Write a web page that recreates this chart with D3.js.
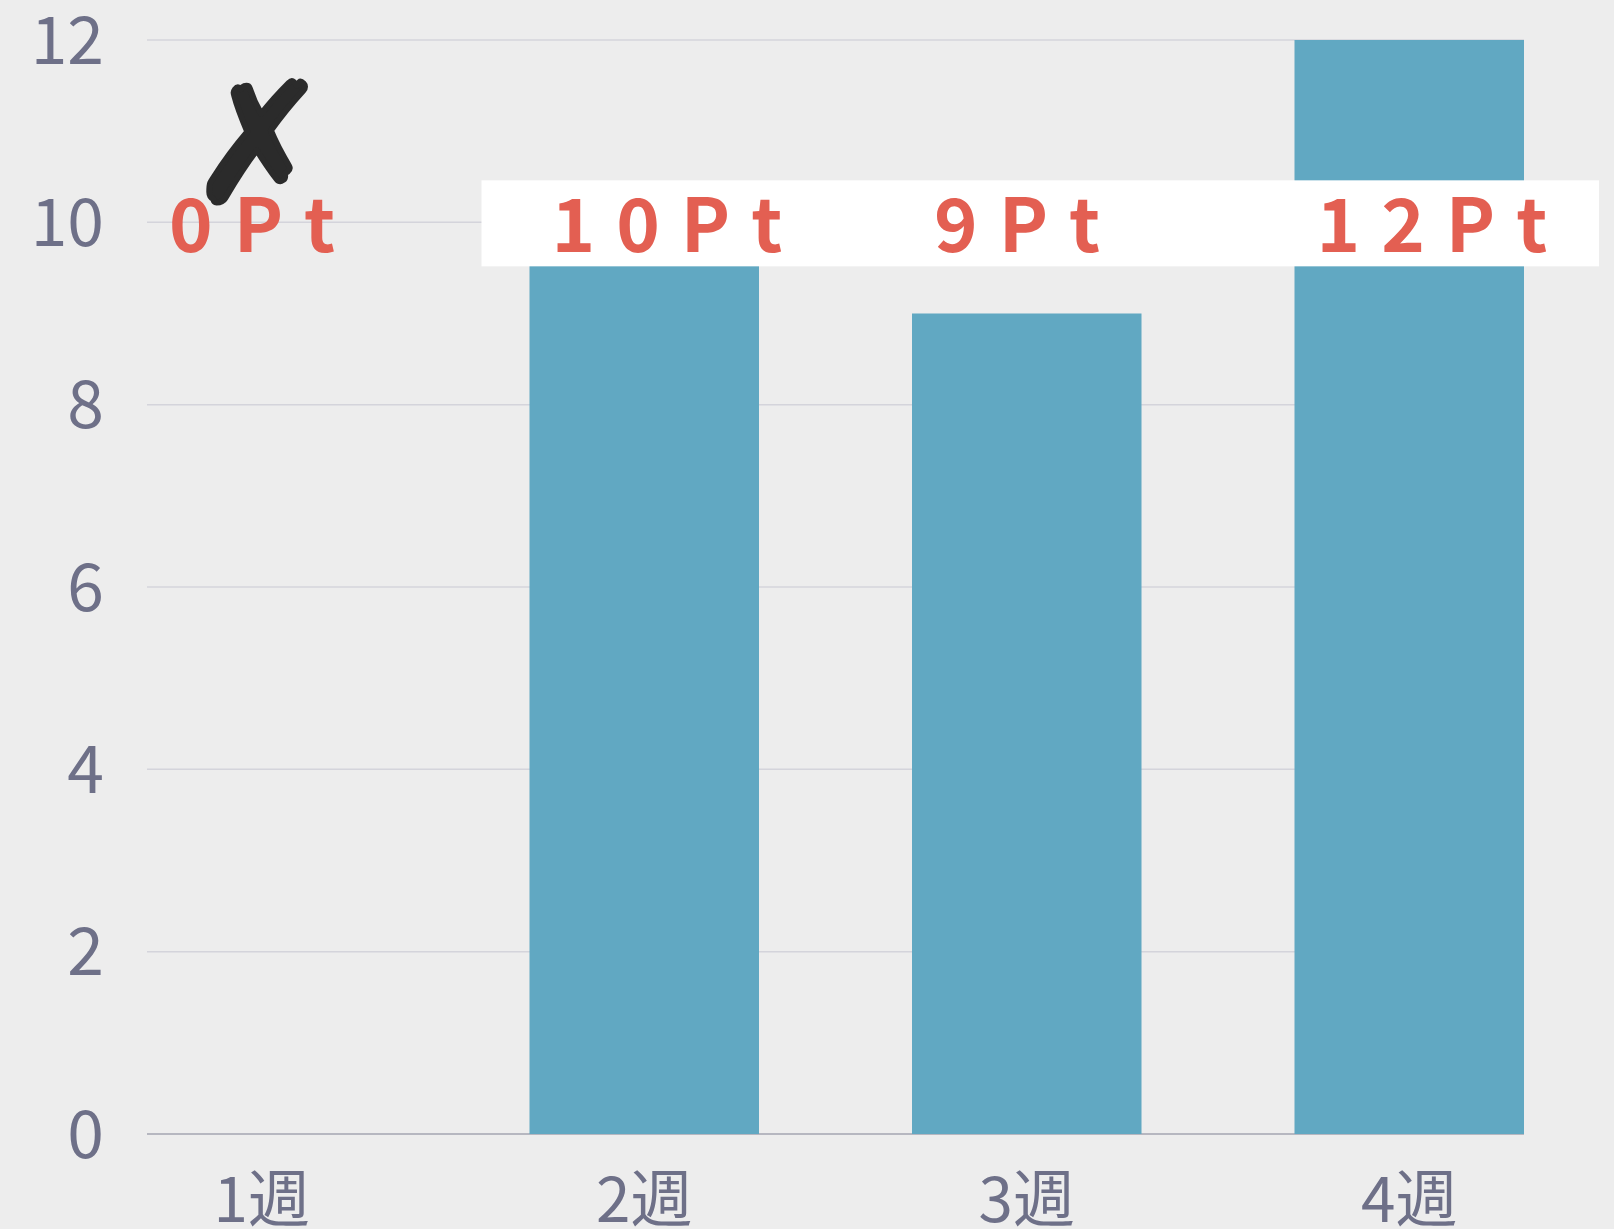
<!DOCTYPE html>
<html>
<head>
<meta charset="utf-8">
<script src="https://cdn.jsdelivr.net/npm/d3@7"></script>
<style>
  body { margin: 0; background: #ededed; }
  svg { display: block; }
  text { font-family: "Noto Sans CJK JP", "Noto Sans", sans-serif; }
</style>
</head>
<body>
<div class="chart"></div>
<script>
/*---------------- data ----------------*/
const weeks = ["1週", "2週", "3週", "4週"];
const points = [0, 10, 9, 12];
const pointLabels = ["0Pt", "10Pt", "9Pt", "12Pt"];
const yTicks = [0, 2, 4, 6, 8, 10, 12];

const size = { width: 1614, height: 1229 };
const plot = { left: 147, right: 1524, top: 40, bottom: 1134 };

const svg = d3.select(".chart").append("svg")
    .attr("width", size.width)
    .attr("height", size.height);

svg.append("rect")
    .attr("width", size.width)
    .attr("height", size.height)
    .attr("fill", "#ededed");

/*---------------- scales ----------------*/
const x = d3.scaleBand()
    .domain(weeks)
    .range([plot.left, plot.right])
    .paddingInner(0.4)
    .paddingOuter(0);

const y = d3.scaleLinear()
    .domain([0, 12])
    .range([plot.bottom, plot.top]);

//grid lines
svg.append("g")
    .selectAll("line")
    .data(yTicks)
    .enter()
    .append("line")
    .attr("x1", plot.left)
    .attr("x2", plot.right)
    .attr("y1", d => y(d))
    .attr("y2", d => y(d))
    .attr("stroke", d => d === 0 ? "#a3a5b0" : "#d4d4db")
    .attr("stroke-width", 1.5);

//y labels
svg.append("g")
    .selectAll("text")
    .data(yTicks)
    .enter()
    .append("text")
    .attr("x", 104)
    .attr("y", d => y(d))
    .attr("dy", "0.36em")
    .attr("text-anchor", "end")
    .style("font-size", "66px")
    .style("fill", "#6e7088")
    .text(d => d);

//x labels
svg.append("g")
    .selectAll("text")
    .data(weeks)
    .enter()
    .append("text")
    .attr("x", d => x(d) + x.bandwidth() / 2)
    .attr("y", 1222)
    .attr("text-anchor", "middle")
    .style("font-size", "62px")
    .style("fill", "#6e7088")
    .text(d => d);

/*---------------- bars ----------------*/
svg.append("g")
    .selectAll("rect")
    .data(weeks)
    .enter()
    .append("rect")
    .attr("x", d => x(d))
    .attr("y", (d, i) => y(points[i]))
    .attr("width", x.bandwidth())
    .attr("height", (d, i) => y(0) - y(points[i]))
    .attr("fill", "#61a8c2");

/*---------------- point labels ----------------*/
//white band behind labels of week 2-4
svg.append("rect")
    .attr("x", x(weeks[1]) - 48)
    .attr("y", y(10) - 42)
    .attr("width", x(weeks[3]) + x.bandwidth() + 75 - (x(weeks[1]) - 48))
    .attr("height", 86)
    .attr("fill", "#ffffff");

svg.append("g")
    .selectAll("text")
    .data(weeks)
    .enter()
    .append("text")
    .attr("x", d => x(d) + 22)
    .attr("y", y(10) + 30)
    .attr("text-anchor", "start")
    .style("font-size", "74px")
    .style("font-weight", "bold")
    .style("letter-spacing", "21px")
    .style("fill", "#e35f52")
    .text((d, i) => pointLabels[i]);

//cross mark on week 1
svg.append("text")
    .attr("x", x(weeks[0]) + x.bandwidth() / 2 - 3)
    .attr("y", y(11) + 70)
    .attr("text-anchor", "middle")
    .style("font-family", "DejaVu Sans")
    .style("font-size", "164px")
    .style("fill", "#2b2b2b")
    .style("stroke", "#2b2b2b")
    .style("stroke-width", 6)
    .style("stroke-linejoin", "round")
    .text("✗");
</script>
</body>
</html>
